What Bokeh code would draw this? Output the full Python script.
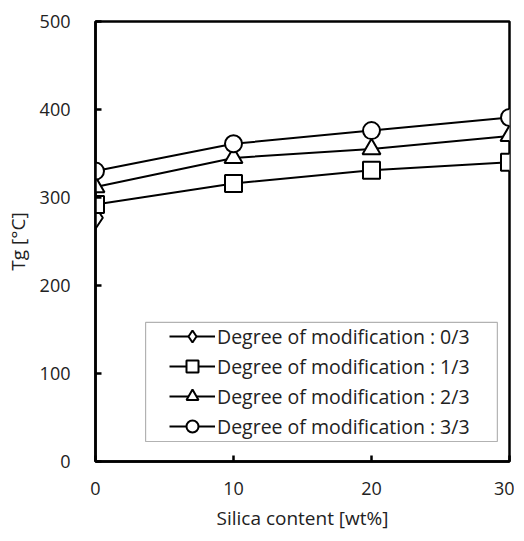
from bokeh.plotting import figure
from bokeh.models import Range1d, FixedTicker, Legend, LegendItem, BoxAnnotation
from bokeh.embed import file_html
from bokeh.resources import INLINE

silica = [0, 10, 20, 30]
deg0_x = [0]
deg0_y = [277]
deg1_y = [292, 316, 331, 340]
deg2_y = [312, 345, 355, 370]
deg3_y = [330, 361, 376, 391]
labels = ["Degree of modification : 0/3", "Degree of modification : 1/3",
          "Degree of modification : 2/3", "Degree of modification : 3/3"]

FONT = "Open Sans"
TXT = "#222222"
p = figure(width=514, height=536, output_backend="svg", toolbar_location=None,
           x_range=Range1d(0, 30), y_range=Range1d(0, 500),
           min_border_left=95, min_border_right=5, min_border_top=21, min_border_bottom=75)
p.grid.visible = False
p.background_fill_color = "white"
p.outline_line_color = "black"
p.outline_line_width = 2.5

for ax in (p.xaxis[0], p.yaxis[0]):
    ax.axis_line_color = "black"
    ax.axis_line_width = 2.5
    ax.major_tick_in = 6
    ax.major_tick_out = 0
    ax.major_tick_line_width = 2.5
    ax.minor_tick_line_color = None
    ax.major_label_text_font = FONT
    ax.major_label_text_font_size = "18px"
    ax.major_label_text_color = TXT
    ax.axis_label_text_font = FONT
    ax.axis_label_text_font_size = "19px"
    ax.axis_label_text_font_style = "normal"
    ax.axis_label_text_color = TXT

p.xaxis.ticker = FixedTicker(ticks=silica)
p.yaxis.ticker = FixedTicker(ticks=[0, 100, 200, 300, 400, 500])
p.xaxis.axis_label = "Silica content [wt%]"
p.yaxis.axis_label = "Tg [°C]"
p.xaxis.major_label_standoff = 20
p.xaxis.axis_label_standoff = 7
p.yaxis.major_label_standoff = 25
p.yaxis.axis_label_standoff = 6

# legend frame
p.add_layout(BoxAnnotation(left=3.63, right=29.12, bottom=22.7, top=158,
                           fill_color="white", fill_alpha=1,
                           line_color="black", line_width=1.2))

items = []
series = [(deg0_x, deg0_y, "diamond", 22), (silica, deg1_y, "square", 17),
          (silica, deg2_y, "triangle", 18), (silica, deg3_y, "circle", 17)]
for (xs, ys, mk, sz), lab in zip(series, labels):
    lr = p.line(xs, ys, line_color="black", line_width=2)
    sr = p.scatter(xs, ys, marker=mk, size=sz, fill_color="white",
                   line_color="black", line_width=2)
    items.append(LegendItem(label=lab, renderers=[lr, sr]))

leg = Legend(items=items, location=(74, 20))
leg.border_line_color = None
leg.background_fill_alpha = 0
leg.label_text_font = FONT
leg.label_text_font_size = "19.5px"
leg.label_text_color = TXT
leg.glyph_width = 46
leg.glyph_height = 30
leg.spacing = 0
leg.padding = 0
leg.margin = 0
leg.label_standoff = 2
p.add_layout(leg, "center")

open("out.html", "w").write(file_html(p, INLINE))
